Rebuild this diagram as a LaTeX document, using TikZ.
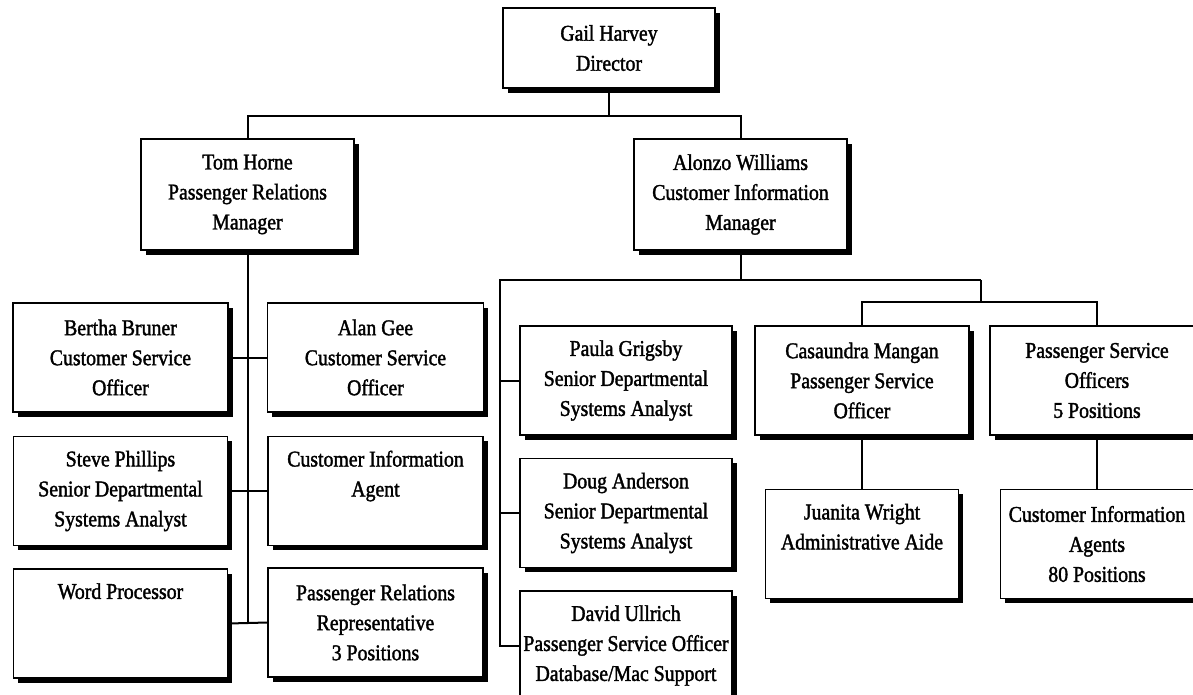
\documentclass[tikz,border=0pt]{standalone}
\usepackage{fontspec}
\setmainfont{Liberation Serif}
\newfontfamily\chartfont{Liberation Serif}[FakeStretch=0.88, FakeBold=1.6]
\usetikzlibrary{positioning, shadows, calc}
\newcommand{\blankrow}{\phantom{Ag}}

\begin{document}
\begin{tikzpicture}[
            x=1pt, y=-1pt,
            person/.style={draw=black, line width=1.5pt, fill=white, minimum width=213pt, minimum height=109pt, inner sep=1pt, align=center, font=\chartfont\fontsize{22.5}{30}\selectfont, drop shadow={shadow xshift=4.5pt, shadow yshift=-4.5pt, fill=black, opacity=1}},
            link/.style={line width=2pt, black}
        ]
            \useasboundingbox (0,0) rectangle (1193,694);
            \clip (0,0) rectangle (1193,694);

            % Top of the chart
            \node[person, minimum width=212pt, minimum height=80pt] (director) at (609,48) {Gail Harvey\\Director};
            \node[person, minimum height=111pt] (tom) at (247.5,194.5) {Tom Horne\\Passenger Relations\\Manager};
            \node[person, minimum height=111pt] (alonzo) at (740.5,194.5) {Alonzo Williams\\Customer Information\\Manager};

            \coordinate (dirjoin) at (609,116);
            \draw[link] (director.south) -- (dirjoin) -| (tom.north);
            \draw[link] (dirjoin) -| (alonzo.north);

            % Passenger relations staff
            \node[person, minimum width=215pt] (bertha) at (120.5,357.5) {Bertha Bruner\\Customer Service\\Officer};
            \node[person, minimum width=214pt, below=23pt of bertha] (steve) {Steve Phillips\\Senior Departmental\\Systems Analyst};
            \node[person, minimum width=214pt, below=22pt of steve] (word) {Word Processor\\\blankrow\\\blankrow};
            \node[person, minimum width=216pt, right=38pt of bertha] (alan) {Alan Gee\\Customer Service\\Officer};
            \node[person, minimum width=215pt, below=23pt of alan] (ciagent) {Customer Information\\Agent\\\blankrow};
            \node[person, minimum width=215pt, below=21pt of ciagent] (prr) {Passenger Relations\\Representative\\3 Positions};

            \draw[link] (tom.south) -- (tom.south |- word.east);
            \draw[link] (bertha.east) -- (alan.west);
            \draw[link] (steve.east) -- (ciagent.west);
            \draw[link] (word.east) -- (prr.west);

            % Customer information staff
            \node[person, minimum width=212pt] (paula) at (626,380.5) {Paula Grigsby\\Senior Departmental\\Systems Analyst};
            \node[person, minimum width=212pt, below=22pt of paula] (doug) {Doug Anderson\\Senior Departmental\\Systems Analyst};
            \node[person, minimum width=212pt, below=22pt of doug] (david) {David Ullrich\\Passenger Service Officer\\Database/Mac Support};
            \node[person, minimum width=214pt] (casaundra) at (862,380.5) {Casaundra Mangan\\Passenger Service\\Officer};
            \node[person, minimum width=214pt] (pso) at (1097,380.5) {Passenger Service\\Officers\\5 Positions};
            \node[person, minimum width=193pt, below=53pt of casaundra] (juanita) {Juanita Wright\\Administrative Aide\\\blankrow};
            \node[person, minimum width=193pt, below=53pt of pso] (cia) {Customer Information\\Agents\\80 Positions};

            \coordinate (cijoin) at (740.5,280);
            \coordinate (citrunk) at (500,280);
            \coordinate (psojoin) at (981,280);
            \coordinate (psobar) at (981,302);
            \draw[link] (alonzo.south) -- (cijoin);
            \draw[link] (psojoin) -- (citrunk) |- (david.west);
            \draw[link] (citrunk |- paula.west) -- (paula.west);
            \draw[link] (citrunk |- doug.west) -- (doug.west);
            \draw[link] (psojoin) -- (psobar);
            \draw[link] (casaundra.north) -- (casaundra.north |- psobar) -- (pso.north |- psobar) -- (pso.north);
            \draw[link] (casaundra.south) -- (juanita.north);
            \draw[link] (pso.south) -- (cia.north);

        \end{tikzpicture}
\end{document}
